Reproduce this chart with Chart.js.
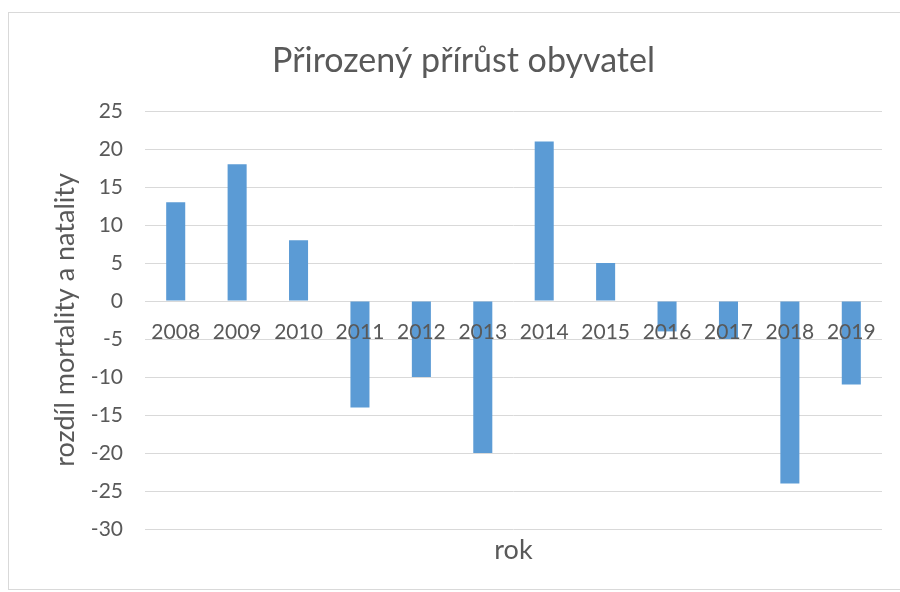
<!DOCTYPE html>
<html lang="cs">
<head>
    <meta charset="UTF-8">
    <title>Přirozený přírůst obyvatel</title>
<script src="https://cdn.jsdelivr.net/npm/chart.js"></script>
<style>
    body { margin: 0; background: #fff; }
    #box { position: absolute; left: 8px; top: 12px; width: 900px; height: 576px; border: 1px solid #d9d9d9; }
</style>
</head>
<body>
    <div id="box">
        <canvas id="myChart" width="891" height="576" style="width:891px;height:576px"></canvas>
    </div>

    <script>
        // data
        const roky = ['2008', '2009', '2010', '2011', '2012', '2013', '2014', '2015', '2016', '2017', '2018', '2019'];
        const prirustek = [13, 18, 8, -14, -10, -20, 21, 5, -4, -5, -24, -11];
        const yMin = -30, yMax = 25, yKrok = 5;

        const sedaText = '#595959';
        const font = 'Lato, "Noto Sans", sans-serif';

        const ctx = document.getElementById('myChart');
        const graf = new Chart(ctx, {
          type: 'bar',
          data: {
            labels: roky,
            datasets: [{
                label: 'rozdíl',
                data: prirustek,
                backgroundColor: '#5b9bd5',
                barPercentage: 0.31,
                categoryPercentage: 1
            }]
          },
          options: {
            responsive: false,
            animation: false,
            layout: { padding: { left: 36, right: 18, top: 0, bottom: 18.6 } },
            plugins: {
              legend: { display: false },
              tooltip: { enabled: false },
              title: {
                display: true,
                text: 'Přirozený přírůst obyvatel',
                color: sedaText,
                font: { family: font, size: 34, weight: 'normal' },
                padding: { top: 28, bottom: 29.2 }
              }
            },
            scales: {
              x: {
                position: { y: 0 },
                grid: { display: false, drawTicks: false },
                border: { display: false },
                // popisky let se kreslí přes sloupce (z: 1)
                ticks: { z: 1, color: sedaText, font: { family: font, size: 21 }, padding: 19, maxRotation: 0 }
              },
              x2: {
                type: 'category',
                position: 'bottom',
                labels: roky,
                grid: { display: false, drawTicks: false },
                border: { display: false },
                ticks: { display: false },
                title: { display: true, text: 'rok', color: sedaText,
                         font: { family: font, size: 27 }, padding: { top: 5, bottom: 4 } }
              },
              y: {
                min: yMin,
                max: yMax,
                afterFit: (s) => { s.width = 100; },
                grid: { color: '#d9d9d9', drawTicks: false },
                border: { display: false },
                ticks: { stepSize: yKrok, color: sedaText, font: { family: font, size: 21 }, padding: 22 },
                title: { display: true, text: 'rozdíl mortality a natality', color: sedaText,
                         font: { family: font, size: 27 }, padding: { top: 4, bottom: 4 } }
              }
            }
          }
        });
      </script>
</body>
</html>
